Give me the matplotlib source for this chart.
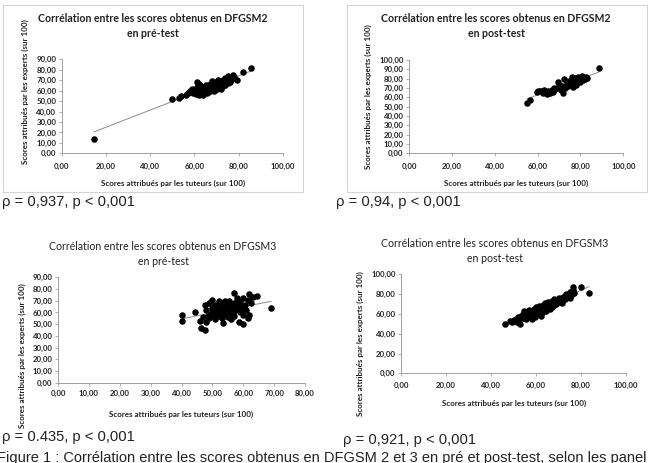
import numpy as np
import matplotlib
matplotlib.use('Agg')
import matplotlib.pyplot as plt
from matplotlib.patches import Rectangle

# ---- data ----
# DFGSM2, pre-test
tut_m2_pre = [14.5, 50, 53, 54, 56, 57, 58, 59, 59.5, 60, 60.5, 61, 61, 61.5, 62, 62,
              62.5, 63, 63, 63.5, 64, 64, 65, 65, 65.5, 66, 66, 66.5, 67, 67, 67.5,
              68, 68, 68.5, 69, 69, 69.5, 70, 70, 70.5, 71, 71, 71.5, 72, 72, 72.5,
              73, 73, 73.5, 74, 74, 74.5, 75, 75, 75.5, 76, 76, 77, 77.5, 78, 79,
              82, 85.5]
exp_m2_pre = [14, 52, 52.5, 55, 56, 57.5, 60, 62, 58, 61, 57, 68, 63, 59, 66, 56,
              61, 64, 58, 60, 62, 56, 60, 65, 58, 63, 59, 61, 66, 60, 64,
              69, 62, 66, 64, 60, 68, 65, 62, 70, 67, 63, 65, 69, 62, 66,
              70, 64, 67, 72, 65, 69, 74, 67, 70, 72, 68, 71, 75, 73, 70,
              78, 82]

# DFGSM2, post-test
tut_m2_post = [55, 56.5, 59.5, 60, 61, 62, 62.5, 63, 64, 64.5, 65, 66, 66.5, 67, 67.5,
               68, 69.5, 70, 70.5, 71, 71.5, 72, 72.5, 73, 73.5, 74, 74.5, 75, 75.5,
               76, 76, 76.5, 77, 77, 77.5, 78, 78, 78.5, 79, 79.5, 80, 80, 80.5, 81,
               81.5, 82, 82.5, 83, 88.5]
exp_m2_post = [53.5, 57, 66, 67, 66.5, 67, 65, 68, 66, 64, 67, 65, 68, 66, 70,
               69, 76, 73, 70, 68, 72, 65, 80, 70, 75, 72, 77, 74, 78,
               82, 76, 71, 79, 75, 81, 77, 73, 80, 82, 78, 76, 80, 83, 79,
               81, 80, 82, 81, 91]

# DFGSM3, pre-test
tut_m3_pre = [40.3, 40.3, 44.3, 46, 46.3, 47.5, 47, 47.5, 48, 48, 48.5, 49, 49, 49.5,
              50, 50, 50, 50.5, 51, 51, 51, 51.5, 52, 52, 52, 52, 52.5, 53, 53, 53,
              53.5, 53.5, 54, 54, 54, 54.5, 55, 55, 55, 55, 55.5, 55.5, 56, 56, 56,
              56.5, 57, 57, 57, 57, 57.5, 58, 58, 58.5, 58.5, 59, 59, 59.5, 60, 60,
              60, 60.5, 61, 61.5, 61.5, 62, 62, 62.5, 63, 64.5, 69]
exp_m3_pre = [53, 58, 60, 53, 47, 45, 56, 66, 62, 52, 57, 68, 55, 59,
              71, 64, 60, 57, 66, 62, 54, 59, 70, 65, 61, 57, 63, 68, 60, 55,
              51, 66, 70, 63, 58, 61, 67, 64, 60, 56, 70, 62, 66, 59, 54,
              63, 77, 68, 61, 57, 65, 72, 63, 52, 67, 60, 70, 64, 72, 58,
              50, 66, 62, 55, 71, 76, 58, 68, 73, 74, 63.5]

# DFGSM3, post-test
tut_m3_post = [46.3, 48.5, 49.5, 50, 51, 51.5, 52, 52.5, 53, 53.5, 54, 54, 54.5, 55,
               55.5, 55.5, 56, 56.5, 57, 57, 57.5, 58, 58, 58.5, 59, 59, 59.5, 60,
               60, 60.5, 61, 61, 61.5, 62, 62, 62.5, 63, 63, 63.5, 64, 64, 64.5, 65,
               65, 65.5, 66, 66, 66.5, 67, 67, 67.5, 68, 68, 68.5, 69, 69, 70, 70,
               70.5, 71, 71.5, 72, 72, 72.5, 73, 73, 73.5, 74, 74.5, 75, 75, 75.5,
               76, 76.5, 77, 76.5, 80, 83.5]
exp_m3_post = [49.8, 53, 52, 54, 55, 52, 57, 55, 50, 58, 56, 60, 63, 57,
               55, 61, 59, 62, 57, 64, 60, 55, 62, 59, 65, 61, 57, 63,
               67, 60, 62, 65, 68, 58, 64, 66, 62, 69, 65, 67, 71, 63, 69,
               66, 72, 68, 65, 70, 73, 67, 71, 69, 75, 72, 70, 74, 72, 76,
               73, 75, 71, 77, 74, 76, 78, 75, 80, 77, 79, 76, 82, 79,
               80, 84, 81, 87, 87.5, 81.5]

xt_100 = [0, 20, 40, 60, 80, 100]
xt_80 = [0, 10, 20, 30, 40, 50, 60, 70, 80]
yt_90 = [0, 10, 20, 30, 40, 50, 60, 70, 80, 90]
yt_100_10 = [0, 10, 20, 30, 40, 50, 60, 70, 80, 90, 100]
yt_100_20 = [0, 20, 40, 60, 80, 100]

titles = ["Corrélation entre les scores obtenus en DFGSM2\nen pré-test",
          "Corrélation entre les scores obtenus en DFGSM2\nen post-test",
          "Corrélation entre les scores obtenus en DFGSM3\nen pré-test",
          "Corrélation entre les scores obtenus en DFGSM3\nen post-test"]
rho_text = ["ρ = 0,937, p < 0,001", "ρ = 0,94, p < 0,001",
            "ρ = 0.435, p < 0,001", "ρ = 0,921, p < 0,001"]
caption = ("Figure 1 : Corrélation entre les scores obtenus en DFGSM 2 et 3 "
           "en pré et post-test, selon les panel")
xlab = "Scores attribués par les tuteurs (sur 100)"
ylab = "Scores attribués par les experts (sur 100)"

# ======================== Layout (pixels) ========================
W, H = 658, 463
CHART_FONT = ['Lato', 'DejaVu Sans']
TEXT_FONT = ['Liberation Sans', 'DejaVu Sans']

fig = plt.figure(figsize=(W / 100, H / 100), dpi=100)
fig.patch.set_facecolor('white')


def fx(px):
    return px / W


def fy(py):
    return 1 - py / H


def fmt(v):
    return f"{v:.2f}".replace('.', ',')


panels = [
    # axes box (l, r, bottom, top) in px, title centre, xlabel / ylabel centres
    dict(x=tut_m2_pre, y=exp_m2_pre, xt=xt_100, yt=yt_90, box=(61.7, 283, 153.3, 59.3),
         tx=153, ty=26, xl=(173, 183), yl=(25, 92), tw='bold', pad=4.5),
    dict(x=tut_m2_post, y=exp_m2_post, xt=xt_100, yt=yt_100_10, box=(409, 623.3, 153.3, 60),
         tx=496, ty=26, xl=(516, 183), yl=(368, 97), tw='bold', pad=4.5),
    dict(x=tut_m3_pre, y=exp_m3_pre, xt=xt_80, yt=yt_90, box=(58, 305, 382.7, 277.3),
         tx=163, ty=254, xl=(181, 414), yl=(22, 356), tw='normal', pad=3.0),
    dict(x=tut_m3_post, y=exp_m3_post, xt=xt_100, yt=yt_100_20, box=(401, 626, 373.3, 274.3),
         tx=495, ty=251, xl=(514, 403), yl=(360, 344), tw='normal', pad=4.0),
]

for p, title in zip(panels, titles):
    l, r, b, t = p['box']
    ax = fig.add_axes([fx(l), fy(b), (r - l) / W, (b - t) / H])
    x = np.array(p['x'])
    y = np.array(p['y'])
    ax.scatter(x, y, s=22, color='black', zorder=3, linewidths=0)
    # linear trendline, as Excel draws it
    k, c = np.polyfit(x, y, 1)
    xs = np.array([x.min(), x.max()])
    ax.plot(xs, k * xs + c, color='#8c8c8c', lw=0.7, zorder=2)

    ax.set_xlim(p['xt'][0], p['xt'][-1])
    ax.set_ylim(p['yt'][0], p['yt'][-1])
    ax.set_xticks(p['xt'])
    ax.set_xticklabels([fmt(v) for v in p['xt']])
    ax.set_yticks(p['yt'])
    ax.set_yticklabels([fmt(v) for v in p['yt']])
    for s in ['top', 'right']:
        ax.spines[s].set_visible(False)
    for s in ['left', 'bottom']:
        ax.spines[s].set_color('#a0a0a0')
        ax.spines[s].set_linewidth(0.7)
    ax.tick_params(axis='both', direction='out', length=2.5, width=0.6,
                   color='#a0a0a0', labelsize=5.6, labelcolor='#222222')
    ax.tick_params(axis='x', pad=p['pad'])
    ax.tick_params(axis='y', pad=1.5)
    for lab in ax.get_xticklabels() + ax.get_yticklabels():
        lab.set_family(CHART_FONT)
        lab.set_fontweight('bold')
    ax.set_facecolor('none')

    fig.text(fx(p['tx']), fy(p['ty']), title, ha='center', va='center',
             fontsize=7.6, fontweight=p['tw'], family=CHART_FONT, color='#222222',
             linespacing=1.35)
    fig.text(fx(p['xl'][0]), fy(p['xl'][1]), xlab, ha='center', va='center',
             fontsize=5.8, fontweight='bold', family=CHART_FONT, color='#222222')
    fig.text(fx(p['yl'][0]), fy(p['yl'][1]), ylab, ha='center', va='center',
             rotation=90, fontsize=5.8, fontweight='bold', family=CHART_FONT,
             color='#222222')

# light frames around the two upper charts
for (x0, y0, x1, y1) in [(3, 5, 303, 192), (347, 5, 647, 192)]:
    fig.patches.append(Rectangle((fx(x0), fy(y1)), (x1 - x0) / W, (y1 - y0) / H,
                                 transform=fig.transFigure, fill=False,
                                 edgecolor='#d4d4d4', lw=0.8))

# captions under each chart
for (px, py), txt in zip([(2, 202), (336, 202), (2, 437), (343, 440)], rho_text):
    fig.text(fx(px), fy(py), txt, ha='left', va='center', fontsize=10.6,
             family=TEXT_FONT, color='#222222')

fig.text(fx(-3), fy(458), caption, ha='left', va='center', fontsize=10.5,
         family=TEXT_FONT, color='#222222')

fig.savefig('out.png', dpi=100)
